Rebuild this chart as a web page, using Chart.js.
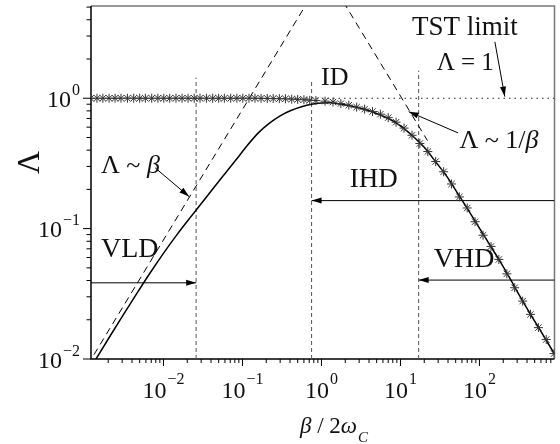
<!DOCTYPE html>
<html>
<head>
<meta charset="utf-8">
<script src="https://cdn.jsdelivr.net/npm/chart.js@4.4.0/dist/chart.umd.min.js"></script>
<style>
  html, body { margin: 0; padding: 0; background: #fff; }
  canvas { display: block; }
</style>
</head>
<body>
<canvas id="chart" width="560" height="444"></canvas>
<script>
// values: x = beta / 2w_C, y = Lambda
const starBeta = [0.0012, 0.00144, 0.00171, 0.00205, 0.00244, 0.0029, 0.0035, 0.0042, 0.005, 0.0059,
    0.0071, 0.0085, 0.0101, 0.012, 0.0144, 0.0172, 0.0205, 0.0245, 0.029, 0.035,
    0.042, 0.05, 0.059, 0.071, 0.085, 0.101, 0.121, 0.144, 0.172, 0.206,
    0.245, 0.293, 0.35, 0.42, 0.5, 0.6, 0.71, 0.85,
    1.11, 1.4, 1.76, 2.22, 2.79, 3.52, 4.43, 5.57, 7.0, 8.8,
    11.1, 14, 17.6, 22.2, 27.9, 35.2, 44.3, 55.7, 70, 88,
    111, 140, 176, 222, 279, 352, 443, 557, 700, 880];
const starLambda = [1, 1, 1, 1, 1, 1, 1, 1, 1, 1,
    1, 1, 1, 1, 1, 1, 1, 1, 1, 1,
    1, 1, 1, 1, 1, 1, 1, 1, 0.998, 0.997,
    0.995, 0.993, 0.99, 0.985, 0.98, 0.975, 0.965, 0.96,
    0.95, 0.935, 0.91, 0.885, 0.855, 0.825, 0.79, 0.755, 0.71, 0.655,
    0.59, 0.52, 0.45, 0.39, 0.327, 0.273, 0.22, 0.175, 0.144, 0.113,
    0.089, 0.073, 0.058, 0.045, 0.0352, 0.0278, 0.022, 0.0174, 0.0141, 0.011];

const curveBeta = [0.0014, 0.002, 0.003, 0.0045, 0.0068, 0.0102, 0.015, 0.0215, 0.0305, 0.043,
    0.06, 0.083, 0.115, 0.16, 0.22, 0.3, 0.41, 0.56, 0.75, 1.0,
    1.3, 1.76, 2.4, 3.3, 4.43, 6, 8.2, 11.1, 15, 20,
    27.9, 38, 52, 70, 95, 130, 176, 240, 330, 443, 600, 891];
const curveLambda = [0.01, 0.01424, 0.02115, 0.0312, 0.0459, 0.0658, 0.0908, 0.1204, 0.157, 0.205,
    0.264, 0.337, 0.434, 0.545, 0.644, 0.733, 0.805, 0.861, 0.90, 0.92,
    0.925, 0.90, 0.87, 0.83, 0.785, 0.73, 0.665, 0.585, 0.5, 0.42,
    0.325, 0.255, 0.19, 0.143, 0.106, 0.078, 0.058, 0.042, 0.0298, 0.022, 0.0163, 0.0109];

// asymptotes Lambda ~ beta and Lambda ~ 1/beta, TST limit Lambda = 1
const linBeta = [0.0011, 0.7];
const linLambda = [0.009, 5.74];
const invBeta = [1.9, 22];
const invLambda = [5.47, 0.473];
const tstBeta = [0.00121, 891];
const tstLambda = [1, 1];

// regime boundaries (vertical dashed lines)
const boundBeta = [0.0259, 0.75, 17];
const boundTop = [1.44, 1.36, 1.63];

// axis ticks
const ticksX = [0.01, 0.1, 1, 10, 100];
const ticksXExp = ['\u22122', '\u22121', '0', '1', '2'];
const ticksY = [0.01, 0.1, 1];
const ticksYExp = ['\u22122', '\u22121', '0'];

// arrows: [from beta, from Lambda, to beta, to Lambda]
const arrows = [
    [0.00121, 0.0384, 0.0259, 0.0384],   // VLD
    [891, 0.164, 0.75, 0.164],           // IHD
    [891, 0.0403, 17, 0.0403],           // VHD
    [0.00787, 0.292, 0.0211, 0.176],     // Lambda ~ beta
    [53.7, 0.542, 12.7, 0.789],          // Lambda ~ 1/beta
    [156.7, 2.71, 209, 1.03]             // TST limit
];

// text notes, anchored at left baseline in data coords
const notes = [
    { runs: [['TST limit', 0]], x: 14.0, y: 3.05, size: 27 },
    { runs: [['\u039b = 1', 0]], x: 28.7, y: 1.65, size: 25 },
    { runs: [['ID', 0]], x: 0.99, y: 1.26, size: 26 },
    { runs: [['\u039b ~ 1/', 0], ['\u03b2', 1]], x: 55.7, y: 0.414, size: 26 },
    { runs: [['IHD', 0]], x: 2.28, y: 0.21, size: 27 },
    { runs: [['\u039b ~ ', 0], ['\u03b2', 1]], x: 0.00162, y: 0.268, size: 26 },
    { runs: [['VLD', 0]], x: 0.00162, y: 0.0608, size: 28 },
    { runs: [['VHD', 0]], x: 26.4, y: 0.051, size: 28 }
];

const FONT = '"Liberation Serif", "Times New Roman", serif';
const pts = (xs, ys) => xs.map((x, i) => ({ x, y: ys[i] }));

const lineSet = (data, extra) => Object.assign({
    data, showLine: true, pointRadius: 0, borderColor: '#000', borderWidth: 1, fill: false
}, extra);

const datasets = [
    { data: pts(starBeta, starLambda), showLine: false, pointStyle: 'star', pointRadius: 4.5,
      borderColor: '#333', borderWidth: 1, backgroundColor: 'rgba(0,0,0,0)' },
    lineSet(pts(curveBeta, curveLambda), { borderWidth: 1.5, cubicInterpolationMode: 'monotone' }),
    lineSet(pts(tstBeta, tstLambda), { borderDash: [1.5, 4], borderColor: '#222', borderWidth: 1.2 }),
    lineSet(pts(linBeta, linLambda), { borderDash: [7, 5] }),
    lineSet(pts(invBeta, invLambda), { borderDash: [7, 5] })
];
boundBeta.forEach((b, i) => {
    datasets.push(lineSet([{ x: b, y: 0.01 }, { x: b, y: boundTop[i] }], { borderDash: [4, 3], borderColor: '#555' }));
});
arrows.forEach(a => {
    datasets.push(lineSet([{ x: a[0], y: a[1] }, { x: a[2], y: a[3] }], { arrow: true }));
});

function drawRuns(ctx, runs, x, y, size) {
    let cx = x;
    runs.forEach(([t, it]) => {
        ctx.font = (it ? 'italic ' : '') + size + 'px ' + FONT;
        ctx.fillText(t, cx, y);
        cx += ctx.measureText(t).width;
    });
    return cx;
}

const figurePlugin = {
    id: 'figure',
    beforeDatasetsDraw(chart) {
        const { ctx, chartArea: a, scales: { x, y } } = chart;
        ctx.save();
        // frame
        ctx.lineWidth = 1.5;
        ctx.strokeStyle = '#777';
        ctx.beginPath();
        ctx.moveTo(a.left, a.top); ctx.lineTo(a.right, a.top); ctx.lineTo(a.right, a.bottom);
        ctx.stroke();
        ctx.strokeStyle = '#000';
        ctx.beginPath();
        ctx.moveTo(a.left, a.top); ctx.lineTo(a.left, a.bottom); ctx.lineTo(a.right, a.bottom);
        ctx.stroke();

        // ticks (outward)
        ctx.lineWidth = 1;
        ctx.beginPath();
        for (let e = -3; e <= 2; e++) {
            for (let m = 1; m <= 9; m++) {
                const v = m * Math.pow(10, e);
                if (v < x.min || v > x.max) continue;
                const px = x.getPixelForValue(v);
                ctx.moveTo(px, a.bottom); ctx.lineTo(px, a.bottom + (m === 1 ? 7 : 4));
            }
        }
        for (let e = -2; e <= 0; e++) {
            for (let m = 1; m <= 9; m++) {
                const v = m * Math.pow(10, e);
                if (v < y.min || v > y.max) continue;
                const py = y.getPixelForValue(v);
                ctx.moveTo(a.left, py); ctx.lineTo(a.left - (m === 1 ? 8 : 4.5), py);
            }
        }
        ctx.stroke();

        // tick labels 10^n
        ctx.fillStyle = '#111';
        ctx.textAlign = 'left';
        ctx.textBaseline = 'alphabetic';
        const big = '24px ' + FONT, small = '16px ' + FONT;
        ticksX.forEach((v, i) => {
            ctx.font = big; const w1 = ctx.measureText('10').width;
            ctx.font = small; const w2 = ctx.measureText(ticksXExp[i]).width;
            const px = x.getPixelForValue(v);
            const left = px - (w1 + 1 + w2) / 2;
            ctx.font = big; ctx.fillText('10', left, a.bottom + 39);
            ctx.font = small; ctx.fillText(ticksXExp[i], left + w1 + 1, a.bottom + 25);
        });
        ticksY.forEach((v, i) => {
            ctx.font = big; const w1 = ctx.measureText('10').width;
            ctx.font = small; const w2 = ctx.measureText(ticksYExp[i]).width;
            const py = y.getPixelForValue(v);
            const left = a.left - 11 - (w1 + 1 + w2);
            ctx.font = big; ctx.fillText('10', left, py + 8.5);
            ctx.font = small; ctx.fillText(ticksYExp[i], left + w1 + 1, py - 3.3);
        });

        // axis titles
        const end = drawRuns(ctx, [['\u03b2', 1], [' / 2', 0], ['\u03c9', 1]], 300, 433, 23);
        ctx.font = 'italic 15px ' + FONT;
        ctx.fillText('C', end + 1, 442);

        ctx.translate(38.5, (a.top + a.bottom) / 2 - 20);
        ctx.rotate(-Math.PI / 2);
        ctx.textAlign = 'center';
        ctx.font = '32px ' + FONT;
        ctx.fillText('\u039b', 0, 0);
        ctx.restore();
    },
    afterDatasetsDraw(chart) {
        const { ctx, scales: { x, y } } = chart;
        ctx.save();
        ctx.fillStyle = '#000';
        chart.data.datasets.forEach((ds, i) => {
            if (!ds.arrow) return;
            const p = chart.getDatasetMeta(i).data;
            const tail = p[0], tip = p[1];
            const ang = Math.atan2(tip.y - tail.y, tip.x - tail.x);
            const len = 10, half = 3;
            ctx.beginPath();
            ctx.moveTo(tip.x, tip.y);
            ctx.lineTo(tip.x - len * Math.cos(ang) + half * Math.sin(ang), tip.y - len * Math.sin(ang) - half * Math.cos(ang));
            ctx.lineTo(tip.x - len * Math.cos(ang) - half * Math.sin(ang), tip.y - len * Math.sin(ang) + half * Math.cos(ang));
            ctx.closePath();
            ctx.fill();
        });
        ctx.fillStyle = '#111';
        ctx.textAlign = 'left';
        ctx.textBaseline = 'alphabetic';
        notes.forEach(n => drawRuns(ctx, n.runs, x.getPixelForValue(n.x), y.getPixelForValue(n.y), n.size));
        ctx.restore();
    }
};

new Chart(document.getElementById('chart'), {
    type: 'scatter',
    data: { datasets },
    options: {
        responsive: false,
        animation: false,
        events: [],
        layout: { padding: { left: 91, right: 1, top: 6, bottom: 85 } },
        plugins: { legend: { display: false }, tooltip: { enabled: false } },
        scales: {
            x: { type: 'logarithmic', min: 0.00121, max: 891, bounds: 'data', display: false },
            y: { type: 'logarithmic', min: 0.01, max: 5.1, bounds: 'data', display: false }
        }
    },
    plugins: [figurePlugin]
});
</script>
</body>
</html>
